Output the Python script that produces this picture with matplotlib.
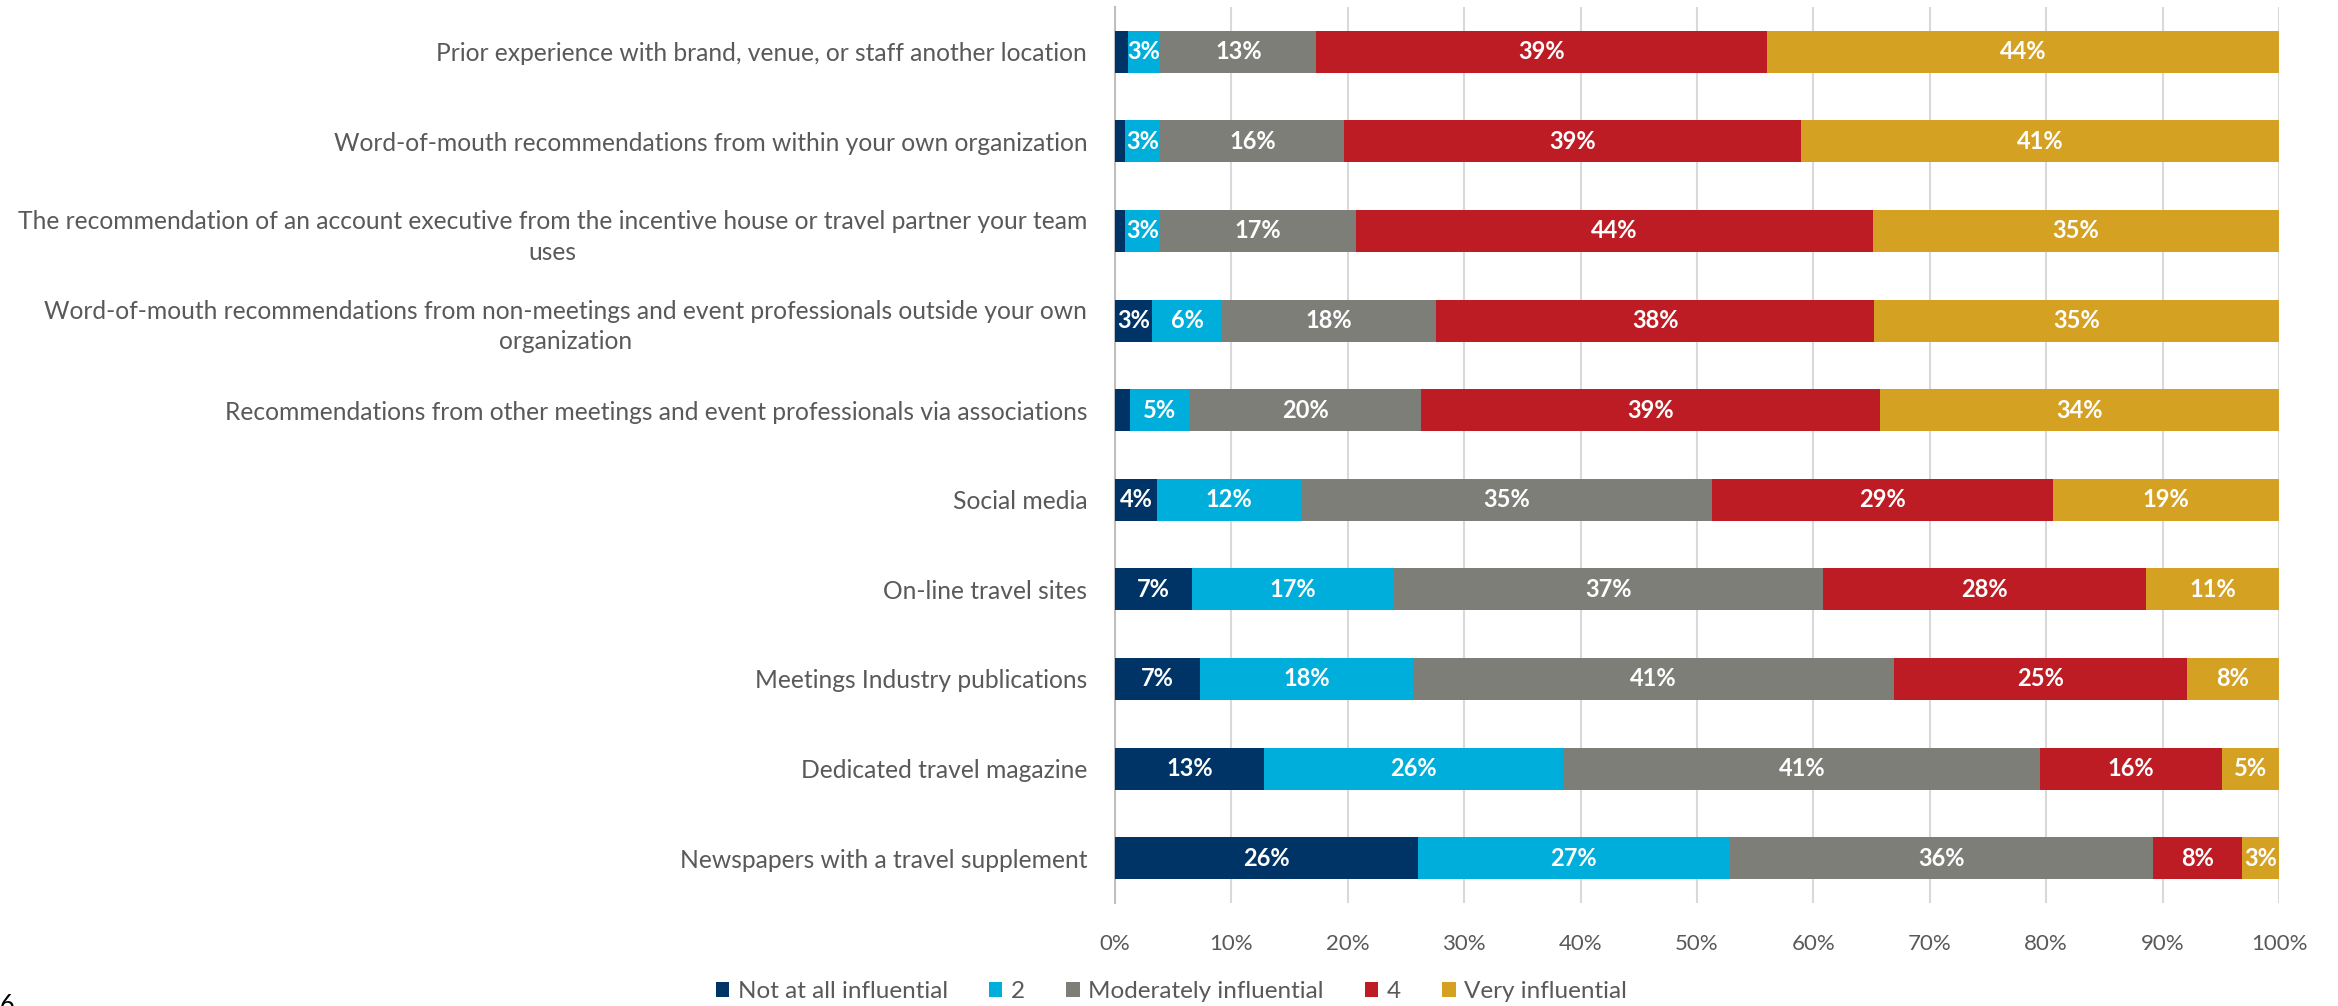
import matplotlib
matplotlib.use("Agg")
import matplotlib.pyplot as plt
import numpy as np

categories = [
    "Prior experience with brand, venue, or staff another location",
    "Word-of-mouth recommendations from within your own organization",
    "The recommendation of an account executive from the incentive house or travel partner your team\nuses",
    "Word-of-mouth recommendations from non-meetings and event professionals outside your own\norganization",
    "Recommendations from other meetings and event professionals via associations",
    "Social media",
    "On-line travel sites",
    "Meetings Industry publications",
    "Dedicated travel magazine",
    "Newspapers with a travel supplement",
]
series_names = ["Not at all influential", "2", "Moderately influential", "4", "Very influential"]
not_at_all = [1.1, 0.9, 0.9, 3.2, 1.3, 3.6, 6.6, 7.3, 12.8, 26.0]
two = [2.8, 3.0, 3.0, 6.0, 5.1, 12.4, 17.4, 18.3, 25.7, 26.8]
moderately = [13.4, 15.8, 16.8, 18.4, 19.9, 35.3, 36.8, 41.3, 41.0, 36.4]
four = [38.7, 39.2, 44.4, 37.6, 39.4, 29.3, 27.8, 25.2, 15.6, 7.6]
very = [44.0, 41.1, 34.9, 34.8, 34.3, 19.4, 11.4, 7.9, 4.9, 3.2]
xtick_labels = ["0%", "10%", "20%", "30%", "40%", "50%", "60%", "70%", "80%", "90%", "100%"]

colors = ["#003366", "#00AEDB", "#7E7E79", "#BE1C24", "#D4A122"]

plt.rcParams['font.family'] = ['Lato', 'DejaVu Sans']

W, H = 2338, 1006
fig = plt.figure(figsize=(W / 100, H / 100), dpi=100)
ax = fig.add_axes([1115 / W, 1 - 903 / H, (2279 - 1115) / W, (903 - 7) / H])

y = np.arange(len(categories))
left = np.zeros(len(categories))
data = [not_at_all, two, moderately, four, very]
for name, vals, c in zip(series_names, data, colors):
    vals = np.array(vals)
    ax.barh(y, vals, left=left, height=0.47, color=c, label=name, zorder=3)
    for yi, l, v in zip(y, left, vals):
        if v >= 2:
            ax.text(l + v / 2, yi, f"{int(round(v))}%", ha="center", va="center",
                    color="white", fontsize=17, fontweight="bold", zorder=4)
    left += vals

ax.set_xlim(0, 100)
ax.set_ylim(len(categories) - 0.5, -0.5)
ax.set_yticks(y)
ax.set_yticklabels(categories, fontsize=17.7, color="#595959")
for t in ax.get_yticklabels():
    t.set_multialignment("center")
    t.set_linespacing(1.4)
ax.set_xticks(np.arange(0, 101, 10))
ax.set_xticklabels(xtick_labels, fontsize=16, color="#595959")
ax.tick_params(axis="y", length=0, pad=20)
ax.tick_params(axis="x", length=0, pad=22)
ax.grid(axis="x", color="#D9D9D9", linewidth=1.5, zorder=0)
for s in ["top", "right", "bottom"]:
    ax.spines[s].set_visible(False)
ax.spines["left"].set_color("#BFBFBF")
ax.spines["left"].set_linewidth(1.5)

handles, labels = ax.get_legend_handles_labels()
fig.legend(handles, labels, loc="center", bbox_to_anchor=(0.501, 0.014), ncol=5,
           frameon=False, fontsize=17.5, labelcolor="#595959",
           handlelength=0.55, handleheight=0.55, handletextpad=0.35, columnspacing=1.7)

fig.text(0.0, 13 / H, "6", fontsize=18, color="black", ha="left", va="top")

fig.savefig("out.png", dpi=100)
